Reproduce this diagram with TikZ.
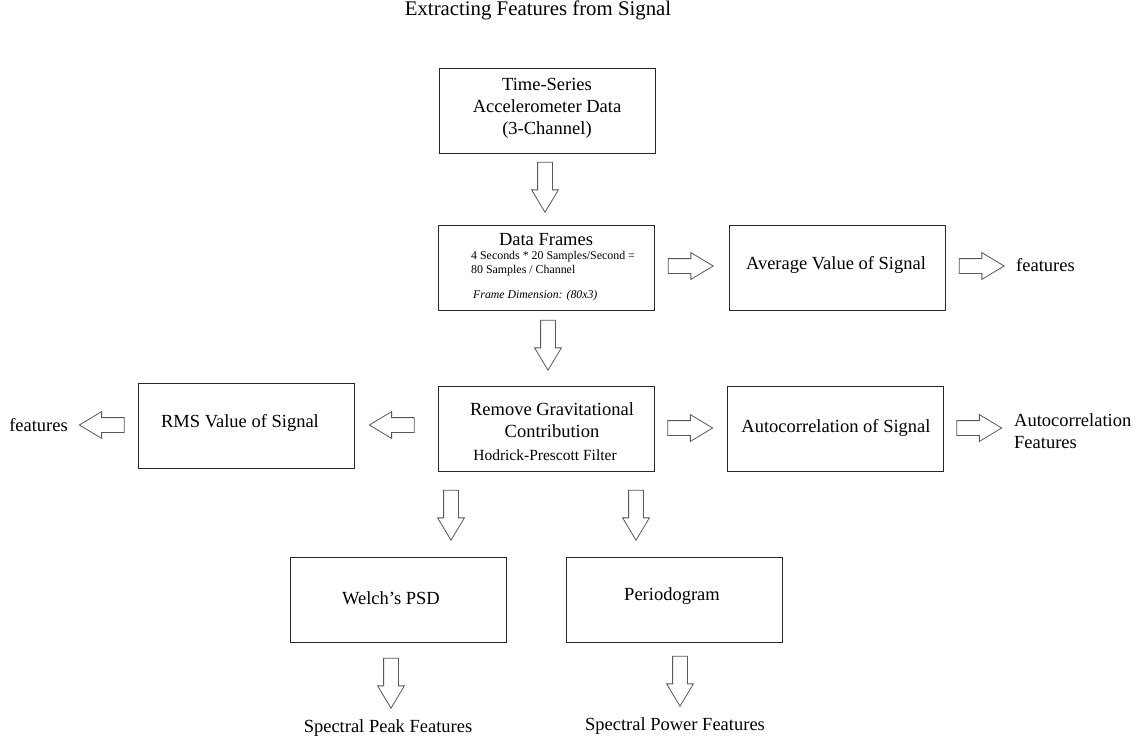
\documentclass[tikz,border=0pt]{standalone}
\usepackage{fontspec}
\setmainfont{Liberation Serif}
\usetikzlibrary{shapes.arrows}
\begin{document}
\begin{tikzpicture}[x=1pt,y=-1pt,
  box/.style={draw=black!85,line width=1pt,minimum width=216pt,minimum height=85pt,inner sep=0pt},
  txt/.style={font=\fontsize{18.5}{22}\selectfont,align=center,inner sep=0pt},
  small/.style={font=\fontsize{11.9}{14}\selectfont,align=left,inner sep=0pt},
  barrow/.style={single arrow,draw=black!65,line width=0.8pt,fill=white,
    minimum height=#1,inner xsep=0pt,inner ysep=7pt,
    single arrow head extend=6pt,single arrow tip angle=62,anchor=center},
  barrow/.default=45pt,
  dn/.style={barrow=50pt,rotate=-90},
  lf/.style={barrow,rotate=180},
  rt/.style={barrow}]
\useasboundingbox (0,0) rectangle (1140,745);
\fill[white] (0,0) rectangle (1140,745);
% title
\node[txt,font=\fontsize{20.8}{24}\selectfont] (title) at (538,10) {Extracting Features from Signal};
% boxes
\node[box] (b1) at (547,110.5) {};
\node[txt] (b1t) at (547,108) {Time-Series\\Accelerometer Data\\(3-Channel)};
\node[box] (b2) at (546.5,267.5) {};
\node[txt] (b2t) at (546,240) {Data Frames};
\node[small,anchor=west] (b2s) at (471,264) {4 Seconds * 20 Samples/Second =\\80 Samples / Channel};
\node[small,anchor=west,font=\fontsize{11.8}{14}\selectfont\itshape] (b2i) at (473,296) {Frame Dimension: (80x3)};
\node[box] (avg) at (837,267.5) {};
\node[txt] (avgt) at (836,265) {Average Value of Signal};
\node[box] (rem) at (546.5,428.5) {};
\node[txt] (remt) at (552,420) {Remove Gravitational\\Contribution};
\node[txt,font=\fontsize{15.5}{18}\selectfont] (remf) at (545,455) {Hodrick-Prescott Filter};
\node[box] (rms) at (246,425.5) {};
\node[txt] (rmst) at (240,423) {RMS Value of Signal};
\node[box] (ac) at (835,428.5) {};
\node[txt] (act) at (836,428) {Autocorrelation of Signal};
\node[box] (welch) at (398,599.5) {};
\node[txt] (welcht) at (391,598) {Welch's PSD};
\node[box] (per) at (674,599.5) {};
\node[txt] (pert) at (672,596) {Periodogram};
% block arrows
\node[dn] (a1) at (545,181) {};
\node[dn] (a2) at (548,339) {};
\node[rt] (a3) at (684.5,266) {};
\node[rt] (a4) at (975.5,266) {};
\node[lf] (a5) at (398,425) {};
\node[lf] (a6) at (108,425) {};
\node[rt] (a7) at (684,428) {};
\node[rt] (a8) at (973,428) {};
\node[dn] (a9) at (451,509) {};
\node[dn] (a10) at (636,509) {};
\node[dn] (a11) at (391,677) {};
\node[dn] (a12) at (680,675) {};
% free labels
\node[txt,anchor=west] (f1) at (1016,265) {features};
\node[txt,anchor=east] (f2) at (68,425) {features};
\node[txt,anchor=west,align=left] (f3) at (1014,431.5) {Autocorrelation\\Features};
\node[txt] (f4) at (388,728) {Spectral Peak Features};
\node[txt] (f5) at (675,726) {Spectral Power Features};
\end{tikzpicture}
\end{document}
